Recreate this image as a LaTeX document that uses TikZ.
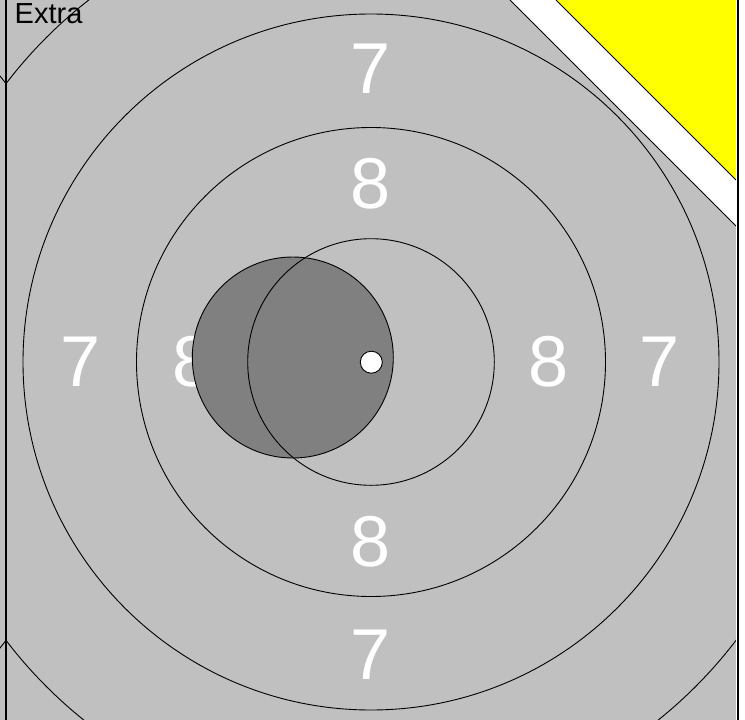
\documentclass[tikz,border=0pt]{standalone}
\usepackage{fontspec}
\setmainfont{Liberation Sans}
\definecolor{sheet}{HTML}{C0C0C0}
\definecolor{hit}{HTML}{808080}
\definecolor{corner}{HTML}{FFFF00}
\tikzset{
  ring/.style={draw=black, line width=0.9pt},
  digit/.style={text=white, inner sep=0pt, anchor=center, font=\fontsize{72}{72}\selectfont},
}
\begin{document}
\begin{tikzpicture}[x=1pt,y=-1pt]
\useasboundingbox (0,0) rectangle (745,720);
\fill[white] (0,0) rectangle (745,720);
% gray sheet with cut corner
\fill[sheet] (0,0) -- (510,0) -- (736,226) -- (736,720) -- (0,720) -- cycle;
\coordinate (cutA) at (510,0);
\coordinate (cutB) at (736,226);
\draw[line width=1pt] (cutA) -- (cutB);
% yellow corner
\coordinate (yA) at (556,0);
\coordinate (yB) at (736,180);
\fill[corner] (yA) -- (736,0) -- (yB) -- cycle;
\draw[line width=1pt] (yA) -- (yB);
% score digits
\coordinate (c) at (371,362);
\node[digit] (n7t) at (371,69) {7};
\node[digit] (n8t) at (371,184) {8};
\node[digit] (n8b) at (371,542) {8};
\node[digit] (n7b) at (371,655) {7};
\node[digit] (n7l) at (81,362) {7};
\node[digit] (n8l) at (193,362) {8};
\node[digit] (n8r) at (549,362) {8};
\node[digit] (n7r) at (660,362) {7};
% hit
\filldraw[fill=hit, draw=black, line width=0.9pt] (292.8,357.5) circle[radius=100.5];
% rings
\begin{scope}
  \clip (6,0) -- (510,0) -- (736,226) -- (736,720) -- (6,720) -- cycle;
  \draw[ring] (c) circle[radius=123.3];
  \draw[ring] (c) circle[radius=234.5];
  \draw[ring] (c) circle[radius=348];
  \draw[ring] (c) circle[radius=459];
\end{scope}
\begin{scope}
  \clip (0,0) rectangle (6,720);
  \draw[ring] (-359,362) circle[radius=459];
\end{scope}
% centre dot
\filldraw[fill=white, draw=black, line width=0.9pt] (371.3,362.2) circle[radius=11];
% borders
\draw[line width=1.2pt] (6,0) -- (6,720);
\draw[white, line width=1pt] (736.9,0) -- (736.9,720);
\draw[line width=1.3pt] (738.1,0) -- (738.1,720);
% label
\node[anchor=base west, inner sep=0pt, font=\fontsize{29}{29}\selectfont] (extra) at (14.5,23.5) {Extra};
\end{tikzpicture}
\end{document}
